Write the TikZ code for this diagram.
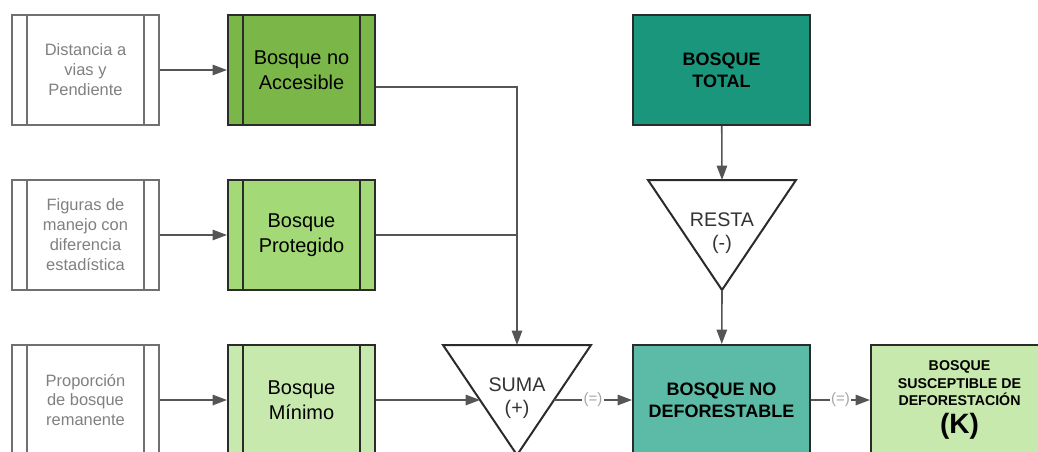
\documentclass[tikz,border=0pt]{standalone}
\usepackage{fontspec}
\setmainfont{Liberation Sans}
\usetikzlibrary{arrows.meta,shapes,positioning,calc}
\definecolor{verdeA}{HTML}{7AB648}
\definecolor{verdeP}{HTML}{A3D977}
\definecolor{verdeM}{HTML}{C7E9AD}
\definecolor{tealT}{HTML}{1A967D}
\definecolor{tealN}{HTML}{5BBBA6}
\definecolor{borde}{HTML}{2B2B2B}
\definecolor{gris}{HTML}{707070}
\definecolor{linea}{HTML}{555555}
\tikzset{
        barras/.style={path picture={
                \draw[line width=0.5mm,#1] ([xshift=3.75mm]path picture bounding box.south west) -- ([xshift=3.75mm]path picture bounding box.north west);
                \draw[line width=0.5mm,#1] ([xshift=-3.75mm]path picture bounding box.south east) -- ([xshift=-3.75mm]path picture bounding box.north east);}},
        caja/.style={draw=borde, line width=0.5mm, minimum height=27.5mm, inner sep=0pt, align=center},
        dato/.style={caja, draw=gris, fill=white, minimum width=36.75mm, barras=gris, text=gray,
                font=\fontsize{11.7}{14.2}\selectfont},
        bosque/.style={caja, minimum width=36.75mm, barras=borde, font=\fontsize{14.2}{17.8}\selectfont},
        total/.style={caja, minimum width=44.25mm, font=\fontsize{12.8}{15.6}\selectfont\bfseries},
        oper/.style={draw=borde, line width=0.5mm, fill=white, line join=miter},
        optxt/.style={align=center, text=black!80, font=\fontsize{14}{16.4}\selectfont},
        flecha/.style={draw=linea, line width=0.4mm, -{Triangle[length=3.6mm,width=2.6mm]}},
        linea/.style={draw=linea, line width=0.4mm},
        igual/.style={fill=white, inner sep=1pt, text=gray!70, font=\fontsize{10.7}{12}\selectfont}
}
\begin{document}
\begin{tikzpicture}[x=0.25mm,y=-0.25mm]
        \useasboundingbox (0,0) rectangle (1038,451);
        \clip (0,0) rectangle (1038,451);
        \node[dato] (dist) at (85.5,70) {Distancia a\\vias y\\Pendiente};
        \node[dato] (fig) at (85.5,235) {Figuras de\\manejo con\\diferencia\\estadística};
        \node[dato] (prop) at (85.5,400) {Proporción\\de bosque\\remanente};
        \node[bosque,fill=verdeA] (acc) at (301.5,70) {Bosque no\\Accesible};
        \node[bosque,fill=verdeP] (prot) at (301.5,235) {Bosque\\Protegido};
        \node[bosque,fill=verdeM] (mini) at (301.5,400) {Bosque\\Mínimo};
        \node[total,fill=tealT] (total) at (721.5,70) {BOSQUE\\TOTAL};
        \node[total,fill=tealN] (nodef) at (721.5,400) {BOSQUE NO\\DEFORESTABLE};
        \node[total,fill=verdeM,font=\fontsize{10.1}{12.4}\selectfont\bfseries] (susc) at (959.5,400) {BOSQUE\\SUSCEPTIBLE DE\\DEFORESTACIÓN\\[1.5mm]{\fontsize{19.9}{22}\selectfont (K)}};
        \draw[oper] (443,345) -- (591,345) -- (517,455) -- cycle;
        \node[optxt] (suma) at (517,398) {SUMA\\(+)};
        \draw[oper] (648,180) -- (796,180) -- (722,290) -- cycle;
        \node[optxt] (resta) at (722,233) {RESTA\\(-)};
        \coordinate (sumarriba) at (517,345);
        \coordinate (sumizq) at (480,400);
        \coordinate (sumder) at (554,400);
        \coordinate (restarriba) at (722,180);
        \coordinate (restabajo) at (722,290);
        \draw[flecha] (dist) -- (acc);
        \draw[flecha] (fig) -- (prot);
        \draw[flecha] (prop) -- (mini);
        \draw[flecha] ([yshift=-4.25mm]acc.east) -| (sumarriba);
        \draw[linea] (prot.east) -- (prot.east -| sumarriba);
        \draw[flecha] (mini) -- (sumizq);
        \draw[flecha] (sumder) -- node[igual]{(=)} (nodef);
        \draw[flecha] (total) -- (restarriba);
        \draw[flecha] (restabajo) -- (nodef);
        \draw[flecha] (nodef) -- node[igual]{(=)} (susc);
\end{tikzpicture}
\end{document}
